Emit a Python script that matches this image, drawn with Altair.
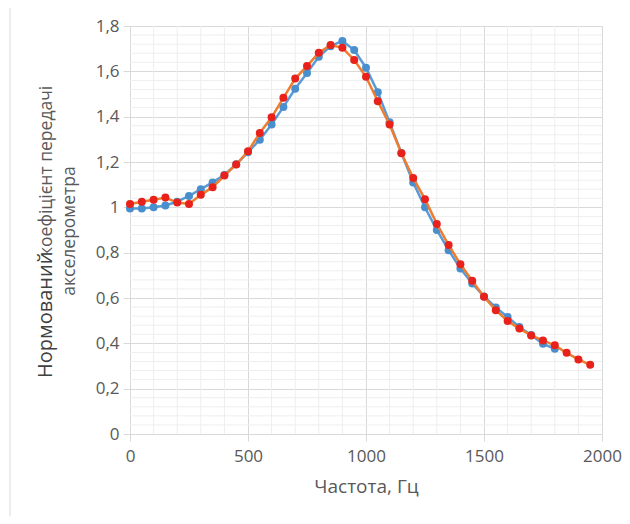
import altair as alt
import pandas as pd

# ---- data -------------------------------------------------------------
freq_blue = [0, 50, 100, 150, 200, 250, 300, 350, 400, 450, 500, 550, 600, 650,
             700, 750, 800, 850, 900, 950, 1000, 1050, 1100, 1150, 1200, 1250,
             1300, 1350, 1400, 1450, 1500, 1550, 1600, 1650, 1700, 1750, 1800]
gain_blue = [0.995, 0.995, 1.0, 1.008, 1.025, 1.05, 1.08, 1.11, 1.143, 1.19,
             1.243, 1.298, 1.365, 1.443, 1.523, 1.593, 1.664, 1.711, 1.734,
             1.694, 1.616, 1.508, 1.375, 1.24, 1.11, 1.0, 0.9, 0.811, 0.73,
             0.664, 0.607, 0.558, 0.516, 0.472, 0.437, 0.398, 0.376]

freq_red = [0, 50, 100, 150, 200, 250, 300, 350, 400, 450, 500, 550, 600, 650,
            700, 750, 800, 850, 900, 950, 1000, 1050, 1100, 1150, 1200, 1250,
            1300, 1350, 1400, 1450, 1500, 1550, 1600, 1650, 1700, 1750, 1800,
            1850, 1900, 1950]
gain_red = [1.015, 1.025, 1.033, 1.043, 1.021, 1.015, 1.055, 1.089, 1.14,
            1.189, 1.247, 1.328, 1.397, 1.483, 1.568, 1.623, 1.682, 1.716,
            1.704, 1.65, 1.576, 1.468, 1.365, 1.239, 1.129, 1.036, 0.927,
            0.834, 0.749, 0.676, 0.605, 0.546, 0.499, 0.465, 0.435, 0.413,
            0.391, 0.358, 0.329, 0.305]

x_major = [0, 500, 1000, 1500, 2000]
x_minor = [v for v in range(100, 2000, 100) if v % 500 != 0]
y_major = [0, 0.2, 0.4, 0.6, 0.8, 1.0, 1.2, 1.4, 1.6, 1.8]
y_minor = [round(i * 0.04, 2) for i in range(1, 45) if i % 5 != 0]

x_title = "Частота, Гц"
y_title_big = "Нормований"
y_title_small = "коефіцієнт передачі"
y_title_line2 = "акселерометра"

# ---- chart ------------------------------------------------------------
FONT = "Open Sans"
GRAY = "#595959"
W, H = 472, 408

blue = pd.DataFrame({"f": freq_blue, "k": gain_blue})
red = pd.DataFrame({"f": freq_red, "k": gain_red})

xs = alt.Scale(domain=[0, 2000], nice=False, zero=False)
ys = alt.Scale(domain=[0, 1.8], nice=False, zero=False)

x_axis = alt.Axis(values=x_major, title=x_title, format="d", grid=True,
                  gridColor="#d9d9d9", domainColor="#d9d9d9", tickColor="#d9d9d9",
                  tickSize=7, labelFlush=False, labelOverlap=False,
                  labelFont=FONT, labelFontSize=17, labelColor=GRAY, labelPadding=7,
                  titleFont=FONT, titleFontSize=19, titleColor=GRAY,
                  titleFontWeight="normal", titlePadding=13)
y_axis = alt.Axis(values=y_major, title=None, grid=True, gridColor="#d9d9d9",
                  domainColor="#d9d9d9", tickColor="#d9d9d9", tickSize=7,
                  labelFlush=False, labelOverlap=False,
                  labelFont=FONT, labelFontSize=17, labelColor=GRAY, labelPadding=4,
                  labelExpr="replace(format(datum.value, '.1~f'), '.', ',')")

X = alt.X("f:Q", scale=xs, axis=x_axis, title=x_title)
Y = alt.Y("k:Q", scale=ys, axis=y_axis, title=None)

minor_x = alt.Chart(pd.DataFrame({"f": x_minor})).mark_rule(
    color="#eeeeee", strokeWidth=1).encode(x=X)
minor_y = alt.Chart(pd.DataFrame({"k": y_minor})).mark_rule(
    color="#eeeeee", strokeWidth=1).encode(y=Y)

def series(df, line_color, dot_color):
    ln = alt.Chart(df).mark_line(color=line_color, strokeWidth=2.5).encode(x=X, y=Y)
    pt = alt.Chart(df).mark_circle(color=dot_color, opacity=1, size=64).encode(x=X, y=Y)
    return ln + pt

blue_s = series(blue, "#5B9BD5", "#4A8FCD")
red_s = series(red, "#ED7D31", "#E8221B")

one = pd.DataFrame({"a": [0]})
frame = alt.Chart(one).mark_rect(fill=None, stroke="#d9d9d9", strokeWidth=1).encode(
    x=alt.value(-120), x2=alt.value(560), y=alt.value(-19), y2=alt.value(540))

t_big = alt.Chart(one).mark_text(text=y_title_big, angle=270, align="left",
                                 baseline="alphabetic", font=FONT, fontSize=20,
                                 color="#404040").encode(
    x=alt.value(-78), y=alt.value(352))
t_small = alt.Chart(one).mark_text(text=y_title_small, angle=270, align="left",
                                   baseline="alphabetic", font=FONT, fontSize=17.5,
                                   color=GRAY).encode(
    x=alt.value(-78), y=alt.value(230))
t_line2 = alt.Chart(one).mark_text(text=y_title_line2, angle=270, align="center",
                                   baseline="alphabetic", font=FONT, fontSize=17.5,
                                   color=GRAY).encode(
    x=alt.value(-55), y=alt.value(205))

chart = alt.layer(
    minor_x, minor_y, blue_s, red_s, frame, t_big, t_small, t_line2
).properties(
    width=W, height=H,
    autosize=alt.AutoSizeParams(type="none"),
    padding={"left": 122, "top": 18, "right": 20, "bottom": 82},
    background="white",
).configure_view(stroke=None)

chart.save("out.html", embed_options={"renderer": "svg", "actions": False})
